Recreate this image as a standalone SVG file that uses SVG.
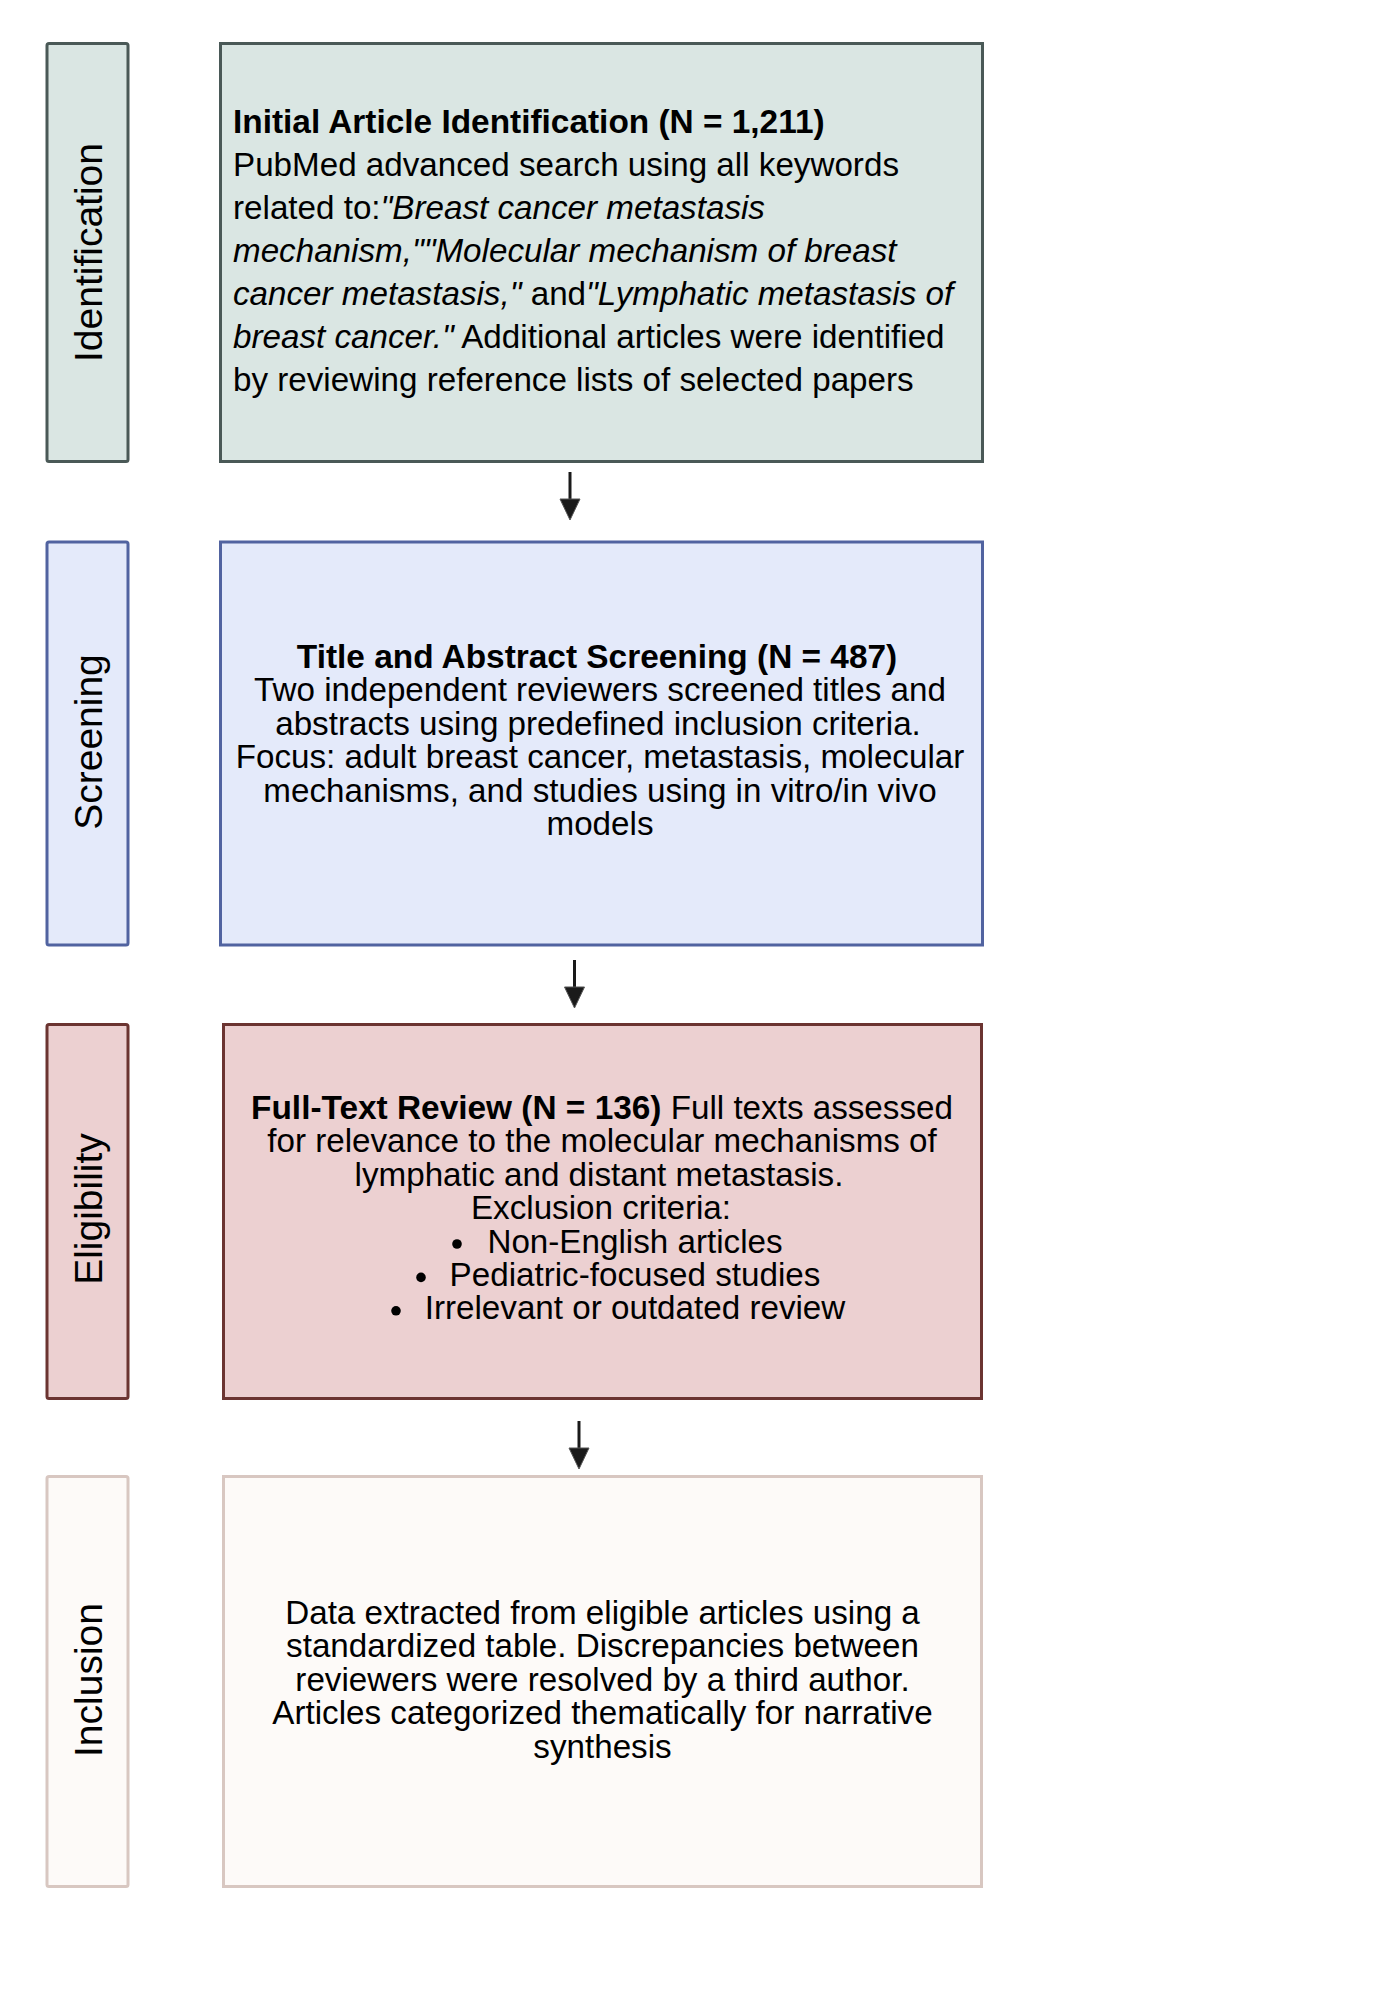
<svg xmlns="http://www.w3.org/2000/svg" width="1400" height="2000" viewBox="0 0 1400 2000">
<style>
  .t { font-family: "Liberation Sans", Arial, Helvetica, sans-serif; font-size: 33.2px; fill: #000; }
  .b { font-weight: bold; font-size: 33.4px; }
  .i { font-style: italic; }
  .lab { font-family: "Liberation Sans", Arial, Helvetica, sans-serif; font-size: 39px; fill: #000; text-anchor: middle; }
  .c { text-anchor: middle; }
  .box { stroke-width: 3; }
  .s1 { fill: #dae6e3; stroke: #4a5957; }
  .s2 { fill: #e4eafa; stroke: #5163a0; }
  .s3 { fill: #ecd0d1; stroke: #6b3431; }
  .s4 { fill: #fdfaf8; stroke: #d8c7c1; }
  .edge { stroke: #1a1a1a; stroke-width: 3; fill: none; }
  .head { fill: #1a1a1a; stroke: #555; stroke-width: 1; }
  .dot { fill: #000; }
</style>
<rect width="1400" height="2000" fill="#ffffff"/>

<g id="label-identification">
  <rect class="box s1" x="47" y="43.5" width="81" height="418" rx="2"/>
  <text class="lab" transform="translate(101.5,252.5) rotate(-90)">Identification</text>
</g>
<g id="label-screening">
  <rect class="box s2" x="47" y="542" width="81" height="403" rx="2"/>
  <text class="lab" transform="translate(101.5,742) rotate(-90)">Screening</text>
</g>
<g id="label-eligibility">
  <rect class="box s3" x="47" y="1024.5" width="81" height="374" rx="2"/>
  <text class="lab" transform="translate(101.5,1209) rotate(-90)">Eligibility</text>
</g>
<g id="label-inclusion">
  <rect class="box s4" x="47" y="1476.5" width="81" height="410" rx="2"/>
  <text class="lab" transform="translate(101.5,1680) rotate(-90)">Inclusion</text>
</g>

<g id="node-identification">
  <rect class="box s1" x="220.5" y="43.5" width="762" height="418"/>
  <text class="t" x="233" y="133"><tspan class="b">Initial Article Identification (N = 1,211)</tspan></text>
  <text class="t" x="233" y="176">PubMed advanced search using all keywords</text>
  <text class="t" x="233" y="219">related to:<tspan class="i">"Breast cancer metastasis</tspan></text>
  <text class="t" x="233" y="262"><tspan class="i">mechanism,""Molecular mechanism of breast</tspan></text>
  <text class="t" x="233" y="305"><tspan class="i">cancer metastasis,"</tspan> and<tspan class="i">"Lymphatic metastasis of</tspan></text>
  <text class="t" x="233" y="348"><tspan class="i">breast cancer."</tspan> Additional articles were identified</text>
  <text class="t" x="233" y="391">by reviewing reference lists of selected papers</text>
</g>

<g id="node-screening">
  <rect class="box s2" x="220.5" y="542" width="762" height="403"/>
  <text class="t c b" x="597" y="668">Title and Abstract Screening (N = 487)</text>
  <text class="t c" x="600" y="701.4">Two independent reviewers screened titles and</text>
  <text class="t c" x="598" y="734.8">abstracts using predefined inclusion criteria.</text>
  <text class="t c" x="600" y="768.2">Focus: adult breast cancer, metastasis, molecular</text>
  <text class="t c" x="600" y="801.6">mechanisms, and studies using in vitro/in vivo</text>
  <text class="t c" x="600" y="835">models</text>
</g>

<g id="node-eligibility">
  <rect class="box s3" x="223.5" y="1024.5" width="758" height="374"/>
  <text class="t c" x="602" y="1119"><tspan class="b">Full-Text Review (N = 136)</tspan> Full texts assessed</text>
  <text class="t c" x="602" y="1152.4">for relevance to the molecular mechanisms of</text>
  <text class="t c" x="599" y="1185.8">lymphatic and distant metastasis.</text>
  <text class="t c" x="601" y="1219.2">Exclusion criteria:</text>
  <circle class="dot" cx="457" cy="1244" r="4.8"/>
  <text class="t c" x="635" y="1252.6">Non-English articles</text>
  <circle class="dot" cx="421" cy="1277.4" r="4.8"/>
  <text class="t c" x="635" y="1286">Pediatric-focused studies</text>
  <circle class="dot" cx="396" cy="1310.8" r="4.8"/>
  <text class="t c" x="635" y="1319.4">Irrelevant or outdated review</text>
</g>

<g id="node-inclusion">
  <rect class="box s4" x="223.5" y="1476.5" width="758" height="410"/>
  <text class="t c" x="602.5" y="1624">Data extracted from eligible articles using a</text>
  <text class="t c" x="602.5" y="1657.4">standardized table. Discrepancies between</text>
  <text class="t c" x="602.5" y="1690.8">reviewers were resolved by a third author.</text>
  <text class="t c" x="602.5" y="1724.2">Articles categorized thematically for narrative</text>
  <text class="t c" x="602.5" y="1757.6">synthesis</text>
</g>

<g id="connectors">
  <line class="edge" x1="570" y1="472" x2="570" y2="500"/>
  <polygon class="head" points="560,499 580,499 570,520"/>
  <line class="edge" x1="574.5" y1="960" x2="574.5" y2="988"/>
  <polygon class="head" points="564.5,987 584.5,987 574.5,1008"/>
  <line class="edge" x1="579" y1="1421" x2="579" y2="1449"/>
  <polygon class="head" points="569,1448 589,1448 579,1469"/>
</g>
</svg>
